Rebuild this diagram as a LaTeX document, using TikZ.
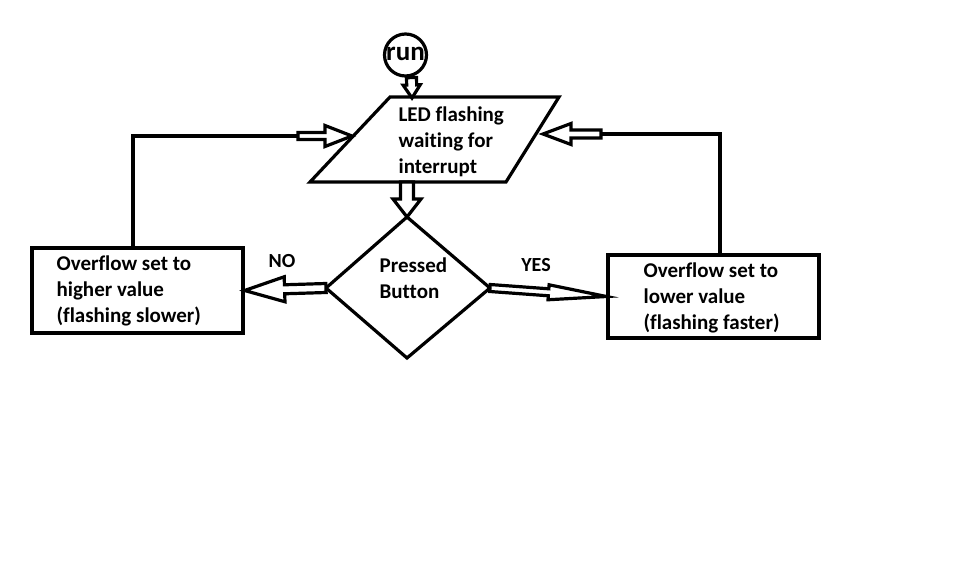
\documentclass[tikz,border=0pt]{standalone}
\usepackage{fontspec}
\setmainfont{Carlito}[Ligatures={NoCommon}]
\usetikzlibrary{calc}
\newcommand\blockarrow[5]{%
  \coordinate (ba-h) at ($(#2)!#5!(#1)$);
  \draw[arr] ($(#1)!#3!90:(#2)$) -- ($(ba-h)!#3!90:(#2)$) -- ($(ba-h)!#4!90:(#2)$) -- (#2)
    -- ($(ba-h)!#4!-90:(#2)$) -- ($(ba-h)!#3!-90:(#2)$) -- ($(#1)!#3!-90:(#2)$) -- cycle;}
\begin{document}
\begin{tikzpicture}[x=1pt,y=-1pt, line width=3.2pt,
  txt/.style={font=\bfseries\fontsize{21}{26}\selectfont, align=left, inner sep=0pt, anchor=west},
  lbl/.style={font=\bfseries\fontsize{20}{22}\selectfont, inner sep=0pt},
  box/.style={draw, rectangle, minimum width=211pt, minimum height=85pt, inner sep=0pt},
  arr/.style={draw, fill=white, line width=3.2pt, line join=miter}]
\useasboundingbox (0,0) rectangle (979,584);
\fill[white] (0,0) rectangle (979,584);

% start
\node[draw, circle, minimum size=42pt, inner sep=0pt, font=\bfseries\fontsize{27}{30}\selectfont] (run) at (405.5,55) {\raisebox{2pt}{run}};

% parallelogram
\coordinate (p1) at (390,97);
\coordinate (p2) at (559,97);
\coordinate (p3) at (506,182);
\coordinate (p4) at (310,182);
\draw[line join=miter] (p1) -- (p2) -- (p3) -- (p4) -- cycle;
\node[txt] (ledtxt) at (397,141.5) {LED flashing\\waiting for\\interrupt};

% diamond
\coordinate (dt) at (407,217);
\coordinate (dr) at (490,288);
\coordinate (db) at (407,358);
\coordinate (dl) at (326,288);
\draw[line join=miter] (dt) -- (dr) -- (db) -- (dl) -- cycle;
\node[txt] (dtxt) at (378,278.5) {Pressed\\Button};

% boxes
\node[box] (lbox) at (137.5,290.5) {};
\node[txt] (ltxt) at (55,290.5) {Overflow set to\\higher value\\(flashing slower)};
\node[box, minimum height=83pt] (rbox) at (713.5,296.5) {};
\node[txt] (rtxt) at (642,298) {Overflow set to\\lower value\\(flashing faster)};

% run -> parallelogram
\coordinate (a1s) at ($(run.south)+(6,0)$);
\coordinate (a1e) at (412,98);
\blockarrow{a1s}{a1e}{5pt}{8.5pt}{13pt}

% parallelogram -> diamond
\coordinate (a2s) at (407,182);
\blockarrow{a2s}{dt}{6.5pt}{14pt}{18pt}

% NO
\coordinate (nos) at (dl);
\coordinate (noe) at (lbox.east);
\blockarrow{nos}{noe}{4.5pt}{12.5pt}{40pt}
\node[lbl] (no) at (282,261) {NO};

% YES
\coordinate (yese) at (rbox.west);
\blockarrow{dr}{yese}{3.5pt}{7.5pt}{58pt}
\node[lbl] (yes) at (536,265) {YES};

% left loop
\coordinate (lc) at (133,136);
\coordinate (la) at (298,136);
\coordinate (lt) at (352,136);
\draw (lbox.north -| lc) -- (lc) -- (la);
\blockarrow{la}{lt}{3.5pt}{10.5pt}{27pt}

% right loop
\coordinate (rc) at (720,134);
\coordinate (ra) at (601,134);
\coordinate (rt) at (543,134);
\draw (rbox.north -| rc) -- (rc) -- (ra);
\blockarrow{ra}{rt}{4pt}{10.5pt}{28pt}
\end{tikzpicture}
\end{document}
